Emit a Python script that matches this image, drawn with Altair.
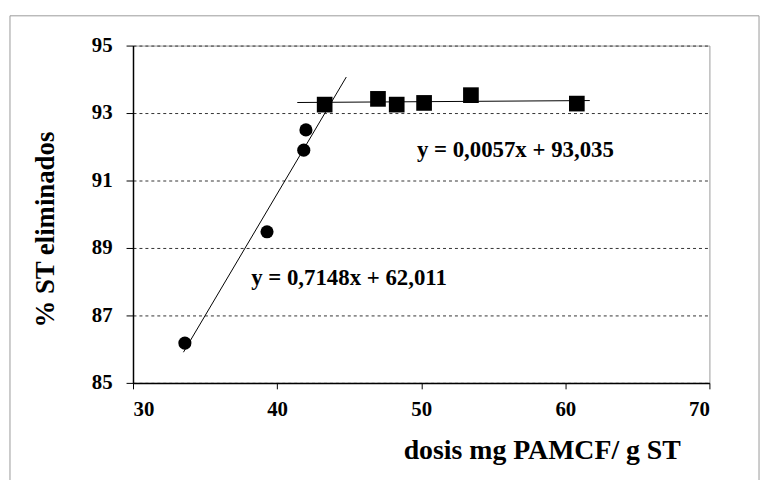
import altair as alt
import pandas as pd

# Data
circle_x = [33.6, 39.3, 41.85, 42.0]
circle_y = [86.18, 89.48, 91.9, 92.5]
square_x = [43.3, 47.0, 48.3, 50.2, 53.45, 60.8]
square_y = [93.25, 93.42, 93.25, 93.3, 93.53, 93.28]
circle_fit_extent = [33.5, 44.8]
square_fit_extent = [41.4, 61.7]
eq_labels = ["y = 0,0057x + 93,035", "y = 0,7148x + 62,011"]
eq_x = [49.7, 38.2]
eq_y = [91.69, 87.9]
x_ticks = [30, 40, 50, 60, 70]
y_ticks = [85, 87, 89, 91, 93, 95]

circles = pd.DataFrame({"x": circle_x, "y": circle_y})
squares = pd.DataFrame({"x": square_x, "y": square_y})
eqs = pd.DataFrame({"label": eq_labels, "x": eq_x, "y": eq_y})

FONT = "Liberation Serif"

xscale = alt.Scale(domain=[30, 70], nice=False, zero=False)
yscale = alt.Scale(domain=[85, 95], nice=False, zero=False)

xenc = alt.X(
    "x:Q", scale=xscale,
    axis=alt.Axis(
        values=x_ticks, title="dosis mg PAMCF/ g ST", grid=False,
        titleX=412, titleY=76, titleAlign="center",
        titleBaseline="alphabetic",
    ),
)
yenc = alt.Y(
    "y:Q", scale=yscale,
    axis=alt.Axis(
        values=y_ticks, title="% ST eliminados", grid=True,
        titleAngle=270, titleX=-80, titleY=185,
        titleAlign="center", titleBaseline="alphabetic",
    ),
)

frame = alt.Chart(pd.DataFrame({"k": [0]})).mark_rect(
    fill=None, stroke="#9a9a9a", strokeWidth=1
).encode(
    x=alt.value(-124), x2=alt.value(631), y=alt.value(-30), y2=alt.value(460)
)

pts_c = alt.Chart(circles).mark_point(
    shape="circle", filled=True, color="black", size=175, opacity=1
).encode(x=xenc, y=yenc)

pts_s = alt.Chart(squares).mark_point(
    shape="square", filled=True, color="black", size=250, opacity=1
).encode(x=xenc, y=yenc)

fit_c = alt.Chart(circles).transform_regression(
    "x", "y", extent=circle_fit_extent
).mark_line(color="black", strokeWidth=1).encode(x=xenc, y=yenc)

fit_s = alt.Chart(squares).transform_regression(
    "x", "y", extent=square_fit_extent
).mark_line(color="black", strokeWidth=1).encode(x=xenc, y=yenc)

txt = alt.Chart(eqs).mark_text(
    font=FONT, fontSize=23, fontWeight="bold", align="left",
    baseline="alphabetic", color="black"
).encode(x=xenc, y=yenc, text="label:N")

chart = alt.layer(frame, fit_c, fit_s, pts_c, pts_s, txt).properties(
    width=581, height=340,
    autosize=alt.AutoSizeParams(type="none"),
    padding={"left": 126, "top": 36, "right": 52, "bottom": 96},
    background="white",
).configure_view(
    stroke="#9a9a9a", strokeWidth=1
).configure_axis(
    domainColor="black", domainWidth=1.5, tickColor="black", tickWidth=1,
    labelFont=FONT, labelFontSize=21, labelFontWeight="bold",
    labelColor="black", titleFont=FONT, titleFontWeight="bold",
    titleColor="black",
).configure_axisX(
    tickSize=6, labelPadding=10, titleFontSize=28, grid=False,
).configure_axisY(
    tickSize=7, labelPadding=14, titleFontSize=27,
    gridDash=[3, 3], gridColor="#333333", gridWidth=1,
)

chart.save("out.html", embed_options={"renderer": "svg", "actions": False})
